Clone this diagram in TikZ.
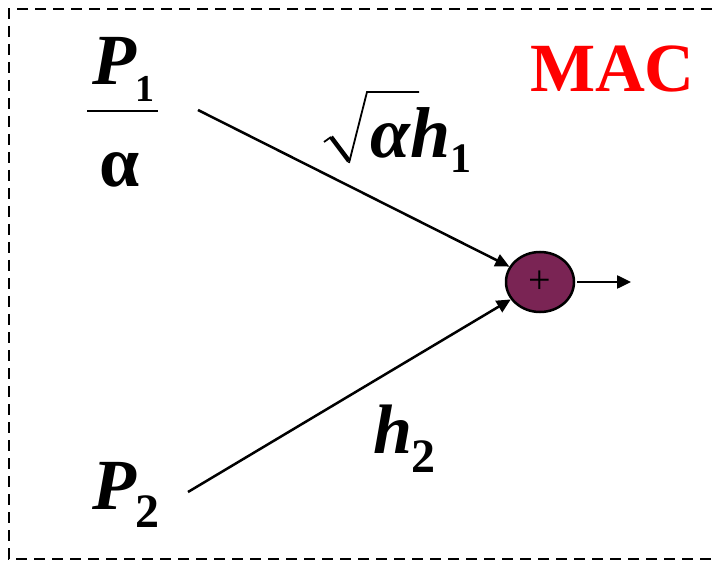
\documentclass[tikz,border=0pt]{standalone}
\usepackage{fontspec}
\setmainfont{Liberation Serif}
\usetikzlibrary{arrows.meta,shapes.geometric}
\definecolor{sumfill}{HTML}{7A2454}
\newcommand\bi{\bfseries\itshape}
\newcommand\sbf[1]{{\bfseries\upshape #1}}
\begin{document}
\begin{tikzpicture}[x=1pt,y=-1pt,
  lbl/.style={anchor=base west,inner sep=0pt,outer sep=0pt},
  conn/.style={line width=2.5pt,-{Triangle[length=14pt,width=13pt]}},
  frame/.style={line width=2.5pt,dash pattern=on 11pt off 7pt}]
\useasboundingbox (0,0) rectangle (715,561);
\begin{scope}
\clip (0,0) rectangle (715,561);
\draw[frame] (730,9) -- (9,9) -- (9,559) -- (730,559);
\end{scope}
% P1 / alpha
\node[lbl] (p1) at (92,85) {\fontsize{72}{72}\selectfont\bi P\raisebox{-17pt}{\fontsize{38}{38}\selectfont\sbf{1}}};
\draw[line width=2.5pt] (87,111) -- (158,111);
\node[lbl] (al) at (99,187) {\fontsize{72}{72}\selectfont\bfseries α};
% sqrt alpha h1
\draw[line width=1.8pt] (324,142) -- (331,137);
\draw[line width=4.5pt] (331,137) -- (349,161);
\draw[line width=1.8pt,line join=miter] (349,163) -- (367,92) -- (419,92);
\node[lbl] (ah1) at (370,158) {\fontsize{72}{72}\selectfont\bi α\kern1pt h\raisebox{-15pt}{\fontsize{42}{42}\selectfont\sbf{1}}};
% h2
\node[lbl] (h2) at (373,453) {\fontsize{70}{70}\selectfont\bi h\raisebox{-19pt}{\fontsize{48}{48}\selectfont\sbf{2}}};
% P2
\node[lbl] (p2) at (92,509) {\fontsize{72}{72}\selectfont\bi P\raisebox{-18pt}{\fontsize{48}{48}\selectfont\sbf{2}}};
% MAC
\node[lbl,text=red] (mac) at (530,92) {\fontsize{69}{69}\selectfont\bfseries MAC};
% summing node
\node[ellipse,draw,line width=2.5pt,fill=sumfill,minimum width=68pt,minimum height=60pt,inner sep=0pt] (sum) at (540,282) {\fontsize{40}{40}\selectfont +};
\coordinate (s1) at (198,110);
\coordinate (s2) at (188,492);
\coordinate (out) at (631,282);
\draw[conn] (s1) -- (sum);
\draw[conn] (s2) -- (sum);
\draw[conn] (sum.east) ++(2,0) -- (out);
\end{tikzpicture}
\end{document}
